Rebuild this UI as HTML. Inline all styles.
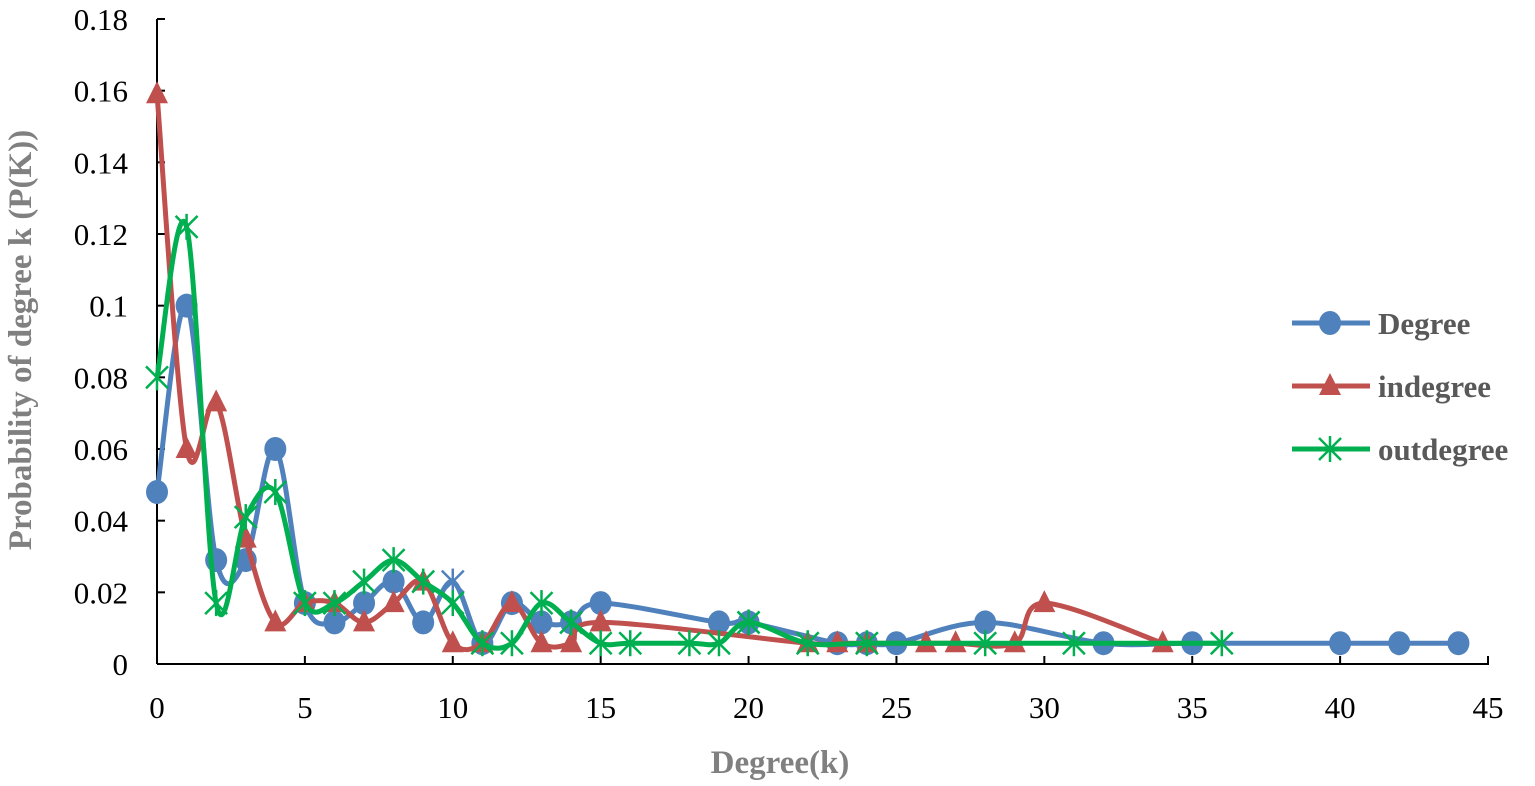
<!DOCTYPE html>
<html><head><meta charset="utf-8"><style>
body{margin:0;background:#fff;}
svg{display:block;font-family:"Liberation Serif",serif;}
</style></head><body>
<svg id="c" width="1535" height="786" xmlns="http://www.w3.org/2000/svg"></svg>
<script>
const S=document.getElementById('c');
const X=v=>157+v*1331/45, Y=v=>664-v*645/0.18;
let h='';
h+=`<line x1="157" y1="19" x2="157" y2="664" stroke="#000" stroke-width="2"/>`;
h+=`<line x1="157" y1="664" x2="1489" y2="664" stroke="#000" stroke-width="2"/>`;
for(let i=0;i<=9;i++){const v=i*0.02,y=Y(v);h+=`<line x1="157" y1="${y}" x2="165" y2="${y}" stroke="#000" stroke-width="2"/>`;
h+=`<text x="128" y="${y+11}" font-size="31" text-anchor="end">${i==0?'0':(+v.toFixed(2)).toString()}</text>`;}
for(let i=0;i<=9;i++){const x=X(i*5);h+=`<line x1="${x}" y1="656" x2="${x}" y2="664" stroke="#000" stroke-width="2"/>`;
h+=`<text x="${x}" y="718" font-size="31" text-anchor="middle">${i*5}</text>`;}
h+=`<text x="780" y="773" font-size="33" font-weight="bold" fill="#808080" text-anchor="middle">Degree(k)</text>`;
h+=`<text transform="translate(31,340) rotate(-90)" font-size="33" font-weight="bold" fill="#808080" text-anchor="middle">Probability of degree k (P(K))</text>`;
const a=.0058,b=.0116;
const deg=[[0,.048],[1,.1],[2,.029],[3,.029],[4,.06],[5,.017],[6,b],[7,.017],[8,.023],[9,b],[10,.023],[11,a],[12,.017],[13,b],[14,b],[15,.017],[19,b],[20,b],[23,a],[24,a],[25,a],[28,b],[32,a],[35,a],[40,a],[42,a],[44,a]];
const ind=[[0,.159],[1,.06],[2,.073],[3,.035],[4,b],[5,.017],[6,.017],[7,b],[8,.017],[9,.023],[10,a],[11,a],[12,.017],[13,a],[14,a],[15,b],[22,a],[23,a],[24,a],[26,a],[27,a],[29,a],[30,.017],[34,a]];
const out=[[0,.08],[1,.122],[2,.017],[3,.041],[4,.048],[5,.017],[6,.017],[7,.023],[8,.029],[9,.023],[10,.017],[11,a],[12,a],[13,.017],[14,b],[15,a],[16,a],[18,a],[19,a],[20,b],[22,a],[24,a],[28,a],[31,a],[36,a]];
function path(d){const p=d.map(q=>[X(q[0]),Y(q[1])]);let s=`M${p[0][0]},${p[0][1]}`;
for(let i=0;i<p.length-1;i++){const p0=p[i-1]||p[i],p1=p[i],p2=p[i+1],p3=p[i+2]||p2,t=6;
s+=` C${p1[0]+(p2[0]-p0[0])/t},${p1[1]+(p2[1]-p0[1])/t} ${p2[0]-(p3[0]-p1[0])/t},${p2[1]-(p3[1]-p1[1])/t} ${p2[0]},${p2[1]}`;}return s;}
const circ=(x,y,c)=>`<ellipse cx="${x}" cy="${y}" rx="11" ry="12" fill="${c}"/>`;
const tri=(x,y,c)=>`<polygon points="${x},${y-13} ${x-11},${y+9} ${x+11},${y+9}" fill="${c}"/>`;
const star=(x,y,c)=>{let r=11;return `<g stroke="${c}" stroke-width="2.5"><line x1="${x-r}" y1="${y-r}" x2="${x+r}" y2="${y+r}"/><line x1="${x-r}" y1="${y+r}" x2="${x+r}" y2="${y-r}"/><line x1="${x}" y1="${y-r-2}" x2="${x}" y2="${y+r+2}"/></g>`;};
const series=[[deg,'#4F81BD',circ],[ind,'#C0504D',tri],[out,'#00B050',star]];
series.forEach(([d,c,m],si)=>{h+=`<path d="${path(d)}" fill="none" stroke="${c}" stroke-width="5"/>`;
d.forEach(q=>h+=(si==0&&q[0]==10?star:m)(X(q[0]),Y(q[1]),c));});
const names=['Degree','indegree','outdegree'];
series.forEach(([d,c,m],i)=>{const y=323+i*63;h+=`<line x1="1292" y1="${y}" x2="1370" y2="${y}" stroke="${c}" stroke-width="5"/>`+m(1330,y,c)+
`<text x="1378" y="${y+11}" font-size="31" font-weight="bold" fill="#595959">${names[i]}</text>`;});
S.innerHTML=h;
</script>
</body></html>
